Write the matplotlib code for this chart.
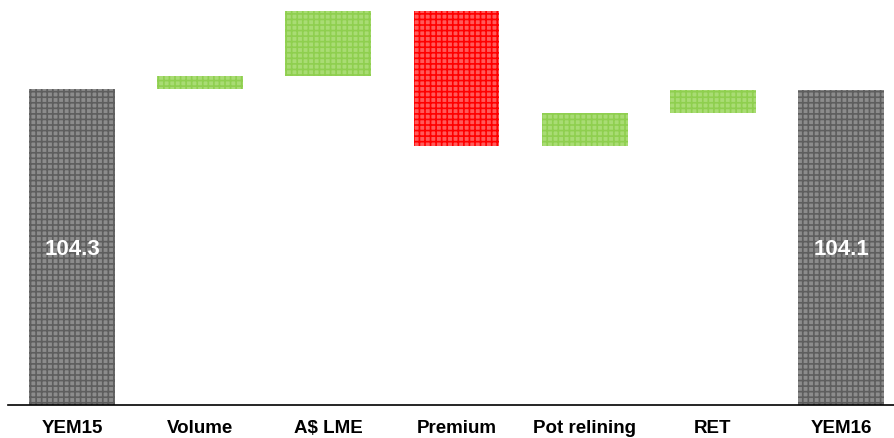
import matplotlib
matplotlib.use('Agg')
import matplotlib.pyplot as plt
import numpy as np

plt.rcParams['font.family'] = ['Liberation Sans', 'DejaVu Sans']
plt.rcParams['hatch.linewidth'] = 1.2

# waterfall data
categories = ['YEM15', 'Volume', 'A$ LME', 'Premium', 'Pot relining', 'RET', 'YEM16']
start_value = 104.3
changes = [4.2, 21.6, -44.5, 10.8, 7.7]
end_value = 104.1

# build bottoms/heights for the floating bars
bottoms = [0]
heights = [start_value]
running = start_value
for c in changes:
    if c >= 0:
        bottoms.append(running)
        heights.append(c)
    else:
        bottoms.append(running + c)
        heights.append(-c)
    running += c
bottoms.append(0)
heights.append(end_value)

face = ['#8c8c8c'] + ['#a9dc74' if c >= 0 else '#ff5a5a' for c in changes] + ['#8c8c8c']
edge = ['#5e5e5e'] + ['#8fcf4f' if c >= 0 else '#ff0000' for c in changes] + ['#5e5e5e']

fig = plt.figure(figsize=(8.95, 4.39), dpi=100)
ax = fig.add_axes([0.0, 0.0752, 1.0, 0.9248])

x = np.arange(len(categories))
for i in range(len(categories)):
    ax.bar(x[i], heights[i], bottom=bottoms[i], width=0.67, color=face[i],
           edgecolor=edge[i], hatch='+++', linewidth=0)

# value labels on total bars
ax.text(x[0], 51.5, '%.1f' % start_value, color='white', fontsize=16,
        fontweight='bold', ha='center', va='center')
ax.text(x[-1], 51.5, '%.1f' % end_value, color='white', fontsize=16,
        fontweight='bold', ha='center', va='center')

ax.set_xlim(-0.562, 6.421)
ax.set_ylim(0, 134)
ax.set_xticks(x)
ax.set_xticklabels(categories, fontsize=13.5, fontweight='bold')
ax.tick_params(axis='x', length=0, pad=10)
ax.set_yticks([])
for s in ['top', 'right', 'left']:
    ax.spines[s].set_visible(False)
ax.spines['bottom'].set_linewidth(1.2)
ax.spines['bottom'].set_bounds(-0.5, 6.421)

plt.savefig('out.png', dpi=100)
